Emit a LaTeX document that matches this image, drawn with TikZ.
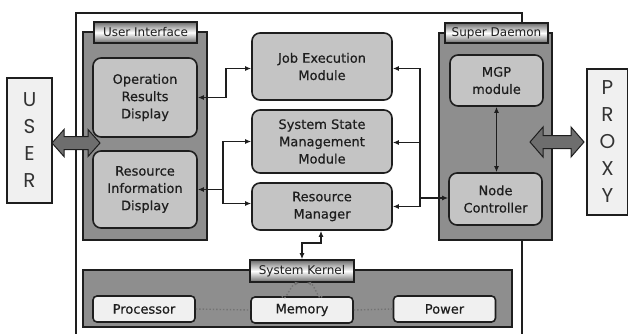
\documentclass[tikz,border=0pt]{standalone}
\usepackage{fontspec}
\setmainfont{DejaVu Sans}
\newfontfamily\modfont{DejaVu Sans}[FakeBold=0.5]
\newfontfamily\geofont{Poppins}
\usetikzlibrary{arrows.meta}
\definecolor{panelc}{HTML}{8E8E8E}
\definecolor{innerc}{HTML}{C4C4C4}
\definecolor{lightc}{HTML}{F0F0F0}
\definecolor{edgec}{HTML}{1E1E1E}
\definecolor{barrowc}{HTML}{6E6E6E}
\definecolor{tabc}{HTML}{6A6A6A}
\begin{document}
\begin{tikzpicture}[x=1pt,y=-1pt,
  panelbox/.style={draw=edgec, line width=1.4pt, fill=panelc, inner sep=0pt},
  modbox/.style={draw=edgec, line width=1.6pt, fill=innerc, rounded corners=8pt, align=center, font=\modfont\fontsize{13}{17.3}\selectfont, inner sep=0pt, text=edgec},
  hwbox/.style={draw=edgec, line width=1.6pt, fill=lightc, rounded corners=4pt, font=\modfont\fontsize{13}{16}\selectfont, inner sep=0pt, minimum width=102pt, minimum height=26pt, text=edgec},
  tabbox/.style={draw=edgec, line width=1.6pt, top color=tabc, bottom color=tabc, middle color=white, font=\fontsize{12}{14}\selectfont, inner sep=0pt, text=edgec},
  endbox/.style={draw=edgec, line width=1.4pt, fill=lightc, align=center, font=\geofont\fontsize{20}{27}\selectfont, text=black!80, inner sep=0pt},
  conn/.style={draw=edgec, line width=1.5pt, -{Latex[length=6pt,width=5pt]}},
  dconn/.style={draw=edgec, line width=1.5pt, {Latex[length=6pt,width=5pt]}-{Latex[length=6pt,width=5pt]}},
  kdot/.style={draw=black!55, line width=1.4pt, dotted},
  blockarrow/.style={draw=edgec, line width=1pt, fill=barrowc}
]
\useasboundingbox (0,0) rectangle (628,333);
\clip (0,0) rectangle (628,333);

% outer frame
\draw[edgec, line width=1.2pt] (76,13) rectangle (522,345);

% panels
\node[panelbox, minimum width=124pt, minimum height=208pt] (uipanel) at (145,136) {};
\node[panelbox, minimum width=113pt, minimum height=207pt] (sdpanel) at (495.5,136.5) {};
\node[panelbox, minimum width=429pt, minimum height=57pt] (kpanel) at (297.5,298.5) {};

% tabs
\node[tabbox, minimum width=103pt, minimum height=21pt] (uitab) at (145.5,32.5) {User Interface};
\node[tabbox, minimum width=103pt, minimum height=20pt] (sdtab) at (496.5,33) {Super Daemon};
\node[tabbox, minimum width=104pt, minimum height=22pt] (ktab) at (302,271) {System Kernel};

% end boxes
\node[endbox, minimum width=45pt, minimum height=125pt] (user) at (29.5,140.5) {U\\S\\E\\R};
\node[endbox, minimum width=41pt, minimum height=146pt] (proxy) at (607.5,142) {P\\R\\O\\X\\Y};

% modules
\node[modbox, minimum width=104pt, minimum height=79pt] (ord) at (145,97.5) {Operation\\Results\\Display};
\node[modbox, minimum width=104pt, minimum height=77pt] (rid) at (145,189.5) {Resource\\Information\\Display};
\node[modbox, minimum width=140pt, minimum height=67pt] (job) at (322,66.5) {Job Execution\\Module};
\node[modbox, minimum width=140pt, minimum height=63pt] (ssm) at (322,141.5) {System State\\Management\\Module};
\node[modbox, minimum width=140pt, minimum height=47pt] (rm) at (322,206.5) {Resource\\Manager};
\node[modbox, minimum width=93pt, minimum height=51pt] (mgp) at (496.5,80.5) {MGP\\module};
\node[modbox, minimum width=93pt, minimum height=52pt] (nc) at (495.5,199) {Node\\Controller};

% hardware
\node[hwbox] (proc) at (144,309) {Processor};
\node[hwbox] (mem) at (302,310) {Memory};
\node[hwbox] (pow) at (444.5,309) {Power};

% connectors left
\draw[dconn] (ord.east) -- ++(28,0) |- ([yshift=-2pt]job.west);
\coordinate (jl) at (223,189.5);
\draw[conn] (jl) -- (rid.east);
\draw[conn] (jl) |- (ssm.west);
\draw[conn] (jl) |- ([yshift=3pt]rm.west);

% connectors right
\coordinate (jr) at (420,198);
\draw[conn] (jr) -- (nc.west |- jr);
\draw[conn] (jr) |- ([yshift=-2pt]job.east);
\draw[conn] (jr) |- ([yshift=-1pt]ssm.east);
\draw[conn] (jr) |- (rm.east);
\draw[dconn] (mgp.south) -- (mgp.south |- nc.north);

% RM <-> kernel
\draw[dconn] ([xshift=-1pt]rm.south) -- ++(0,12) -| (ktab.north);

% kernel dotted links
\draw[kdot] (proc.east) -- (mem.west);
\draw[kdot] (mem.east) -- (pow.west);
\draw[kdot, -{Latex[length=4pt,width=4pt]}] ([xshift=-20pt]mem.north) to[out=-70,in=-170] ([xshift=-3pt]ktab.south);
\draw[kdot, -{Latex[length=4pt,width=4pt]}] ([xshift=20pt]mem.north) to[out=-110,in=-10] ([xshift=5pt]ktab.south);

% block double arrows
\draw[blockarrow] (52,143) -- (64,129.5) -- (64,136.5) -- (88,136.5) -- (88,129.5) -- (100,143) -- (88,156.5) -- (88,149.5) -- (64,149.5) -- (64,156.5) -- cycle;
\draw[blockarrow] (530,142) -- (543,127) -- (543,135.5) -- (571,135.5) -- (571,127) -- (584,142) -- (571,157) -- (571,148.5) -- (543,148.5) -- (543,157) -- cycle;
\end{tikzpicture}
\end{document}
